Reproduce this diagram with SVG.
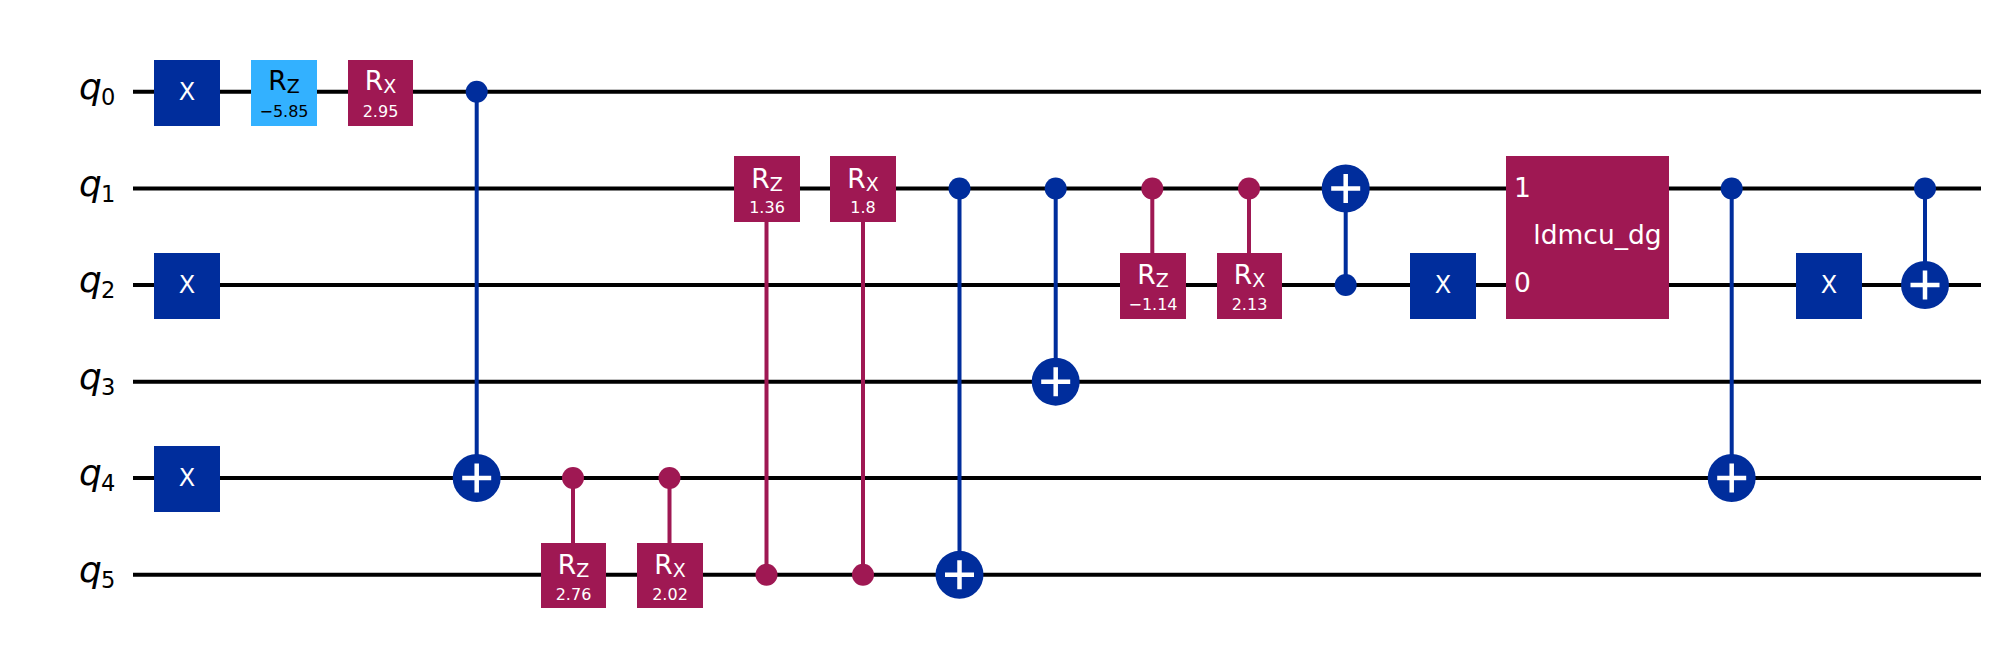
<svg xmlns="http://www.w3.org/2000/svg" width="2003" height="648" viewBox="0 0 2003 648">
<defs><style>
text{font-family:"DejaVu Sans",sans-serif;text-anchor:middle}
.w{stroke:#000;stroke-width:4;fill:none}
.cb{stroke:#002D9C;stroke-width:4;fill:none}
.cm{stroke:#9F1853;stroke-width:4;fill:none}
.x{fill:#002D9C}.m{fill:#9F1853}.l{fill:#33B1FF}
.t{fill:#fff;font-size:26.5px}.g{fill:#fff;font-size:24px}.k{fill:#000;font-size:26.5px}
.s{font-size:16px}.sub{font-size:19px}
.pl{stroke:#fff;stroke-width:4.5;fill:none}
.q{font-size:36px;font-style:italic;text-anchor:start}
.qs{font-size:22.5px;text-anchor:start}
</style>
<g id="xg"><rect x="-33" y="-32" width="66" height="66" class="x"/><text y="7.5" class="g">X</text></g>
<g id="tg"><circle r="24" class="x"/><path d="M-14.5 0H14.5M0-14.5V14.5" class="pl"/></g>
</defs>
<rect width="2003" height="648" fill="#fff"/>
<g id="wires">
<path class="w" d="M133 91.7H1981M133 188.5H1981M133 285H1981M133 381.7H1981M133 478H1981M133 574.8H1981"/>
</g>
<g id="labels">
<text x="79" y="99" class="q">q</text><text x="101" y="104.5" class="qs">0</text>
<text x="79" y="195.5" class="q">q</text><text x="101" y="201.5" class="qs">1</text>
<text x="79" y="292" class="q">q</text><text x="101" y="298" class="qs">2</text>
<text x="79" y="389" class="q">q</text><text x="101" y="394.5" class="qs">3</text>
<text x="79" y="485" class="q">q</text><text x="101" y="491" class="qs">4</text>
<text x="79" y="582" class="q">q</text><text x="101" y="588" class="qs">5</text>
</g>
<g id="connectors">
<path class="cb" d="M476.7 91.7V478M959.5 188.5V574.8M1055.7 188.5V381.7M1345.7 188.5V285M1731.7 188.5V478M1925 188.5V285"/>
<path class="cm" d="M573 478V560M669.5 478V560M766.5 188.5V574.8M863 188.5V574.8M1152.3 188.5V270M1249 188.5V270"/>
</g>
<use id="x0" href="#xg" x="187" y="92"/>
<use id="x2" href="#xg" x="187" y="285"/>
<use id="x4" href="#xg" x="187" y="478"/>
<g id="rz0"><rect x="251" y="60" width="66" height="66" class="l"/><text x="284" y="90" class="k">R<tspan class="sub" dy="3">Z</tspan></text><text x="284" y="116.5" class="k s">−5.85</text></g>
<g id="rx0"><rect x="348" y="60" width="65" height="66" class="m"/><text x="380.5" y="90" class="t">R<tspan class="sub" dy="3">X</tspan></text><text x="380.5" y="116.5" class="t s">2.95</text></g>
<g id="cx04"><circle cx="476.7" cy="91.7" r="11" class="x"/><use href="#tg" x="476.7" y="478"/></g>
<g id="crz45"><circle cx="573" cy="478" r="11" class="m"/><rect x="541" y="543" width="65" height="65" class="m"/><text x="573.5" y="574" class="t">R<tspan class="sub" dy="3">Z</tspan></text><text x="573.5" y="599.5" class="t s">2.76</text></g>
<g id="crx45"><circle cx="669.5" cy="478" r="11" class="m"/><rect x="637" y="543" width="66" height="65" class="m"/><text x="670" y="574" class="t">R<tspan class="sub" dy="3">X</tspan></text><text x="670" y="599.5" class="t s">2.02</text></g>
<g id="crz15"><rect x="734" y="156" width="66" height="66" class="m"/><text x="767" y="187.5" class="t">R<tspan class="sub" dy="3">Z</tspan></text><text x="767" y="212.5" class="t s">1.36</text><circle cx="766.5" cy="574.8" r="11" class="m"/></g>
<g id="crx15"><rect x="830" y="156" width="66" height="66" class="m"/><text x="863" y="187.5" class="t">R<tspan class="sub" dy="3">X</tspan></text><text x="863" y="212.5" class="t s">1.8</text><circle cx="863" cy="574.8" r="11" class="m"/></g>
<g id="cx15"><circle cx="959.5" cy="188.5" r="11" class="x"/><use href="#tg" x="959.5" y="574.8"/></g>
<g id="cx13"><circle cx="1055.7" cy="188.5" r="11" class="x"/><use href="#tg" x="1055.7" y="381.7"/></g>
<g id="crz12"><circle cx="1152.3" cy="188.5" r="11" class="m"/><rect x="1120" y="253" width="66" height="66" class="m"/><text x="1153" y="284" class="t">R<tspan class="sub" dy="3">Z</tspan></text><text x="1153" y="309.5" class="t s">−1.14</text></g>
<g id="crx12"><circle cx="1249" cy="188.5" r="11" class="m"/><rect x="1217" y="253" width="65" height="66" class="m"/><text x="1249.5" y="284" class="t">R<tspan class="sub" dy="3">X</tspan></text><text x="1249.5" y="309.5" class="t s">2.13</text></g>
<g id="cx21"><circle cx="1345.7" cy="285" r="11" class="x"/><use href="#tg" x="1345.7" y="188.5"/></g>
<use id="x2b" href="#xg" x="1443" y="285"/>
<g id="ldmcu"><rect x="1506" y="156" width="163" height="163" class="m"/><text x="1522.5" y="196.5" class="t">1</text><text x="1522.5" y="292" class="t">0</text><text x="1597.5" y="244" class="t">ldmcu_dg</text></g>
<g id="cx14"><circle cx="1731.7" cy="188.5" r="11" class="x"/><use href="#tg" x="1731.7" y="478"/></g>
<use id="x2c" href="#xg" x="1829" y="285"/>
<g id="cx12"><circle cx="1925" cy="188.5" r="11" class="x"/><use href="#tg" x="1925" y="285"/></g>
</svg>
